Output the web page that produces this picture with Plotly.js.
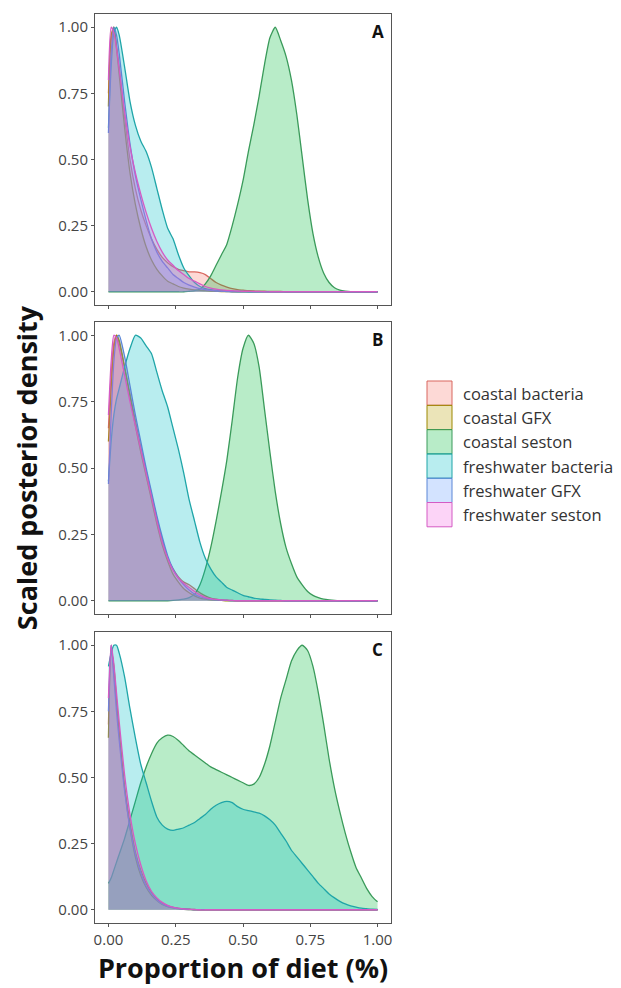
<!DOCTYPE html>
<html>
<head>
<meta charset="utf-8">
<script src="https://cdn.plot.ly/plotly-3.0.1.min.js"></script>
<style>
  html, body { margin: 0; padding: 0; background: #ffffff; }
  #chart { width: 621px; height: 988px; }
</style>
</head>
<body>
<div id="chart"></div>
<script>
// ---- data ----
const sources = ["coastal bacteria", "coastal GFX", "coastal seston",
                 "freshwater bacteria", "freshwater GFX", "freshwater seston"];
const panelLabels = ["A", "B", "C"];
const xTicks = [0, 0.25, 0.5, 0.75, 1];
const yTicks = [0, 0.25, 0.5, 0.75, 1];

// shared grid of diet proportions
const diet = [0, 0.01, 0.02, 0.03, 0.04, 0.06, 0.08, 0.10, 0.12, 0.14, 0.16, 0.18, 0.20,
  0.22, 0.24, 0.26, 0.28, 0.30, 0.32, 0.34, 0.36, 0.38, 0.40, 0.42, 0.44, 0.46, 0.48,
  0.50, 0.52, 0.54, 0.56, 0.58, 0.60, 0.62, 0.64, 0.66, 0.68, 0.70, 0.72, 0.74, 0.76,
  0.78, 0.80, 0.82, 0.84, 0.86, 0.88, 0.90, 0.92, 0.94, 0.96, 0.98, 1.00];

// Panel A
const coastalBacteriaA = [0.75,0.95,1.0,0.93,0.85,0.66,0.50,0.39,0.31,0.25,0.20,0.16,0.13,0.11,0.095,0.085,0.08,0.075,0.075,0.072,0.065,0.05,0.035,0.025,0.018,0.012,0.008,0.006,0.004,0.003,0.002,0.002,0.001,0.001,0.001,0,0,0,0,0,0,0,0,0,0,0,0,0,0,0,0,0,0];
const coastalGFXA = [0.7,0.97,1.0,0.92,0.82,0.62,0.45,0.33,0.24,0.17,0.12,0.085,0.06,0.04,0.03,0.02,0.014,0.01,0.007,0.005,0.004,0.003,0.002,0.001,0.001,0,0,0,0,0,0,0,0,0,0,0,0,0,0,0,0,0,0,0,0,0,0,0,0,0,0,0,0];
const coastalSestonA = [0,0,0,0,0,0,0,0,0,0,0,0,0,0,0,0,0,0.002,0.004,0.01,0.03,0.06,0.10,0.14,0.18,0.25,0.33,0.42,0.53,0.63,0.74,0.86,0.96,1.0,0.95,0.89,0.80,0.67,0.51,0.35,0.22,0.13,0.07,0.035,0.015,0.006,0.002,0,0,0,0,0,0];
const freshBacteriaA = [0.62,0.85,0.98,1.0,0.97,0.85,0.72,0.63,0.57,0.53,0.47,0.39,0.31,0.24,0.20,0.14,0.09,0.06,0.035,0.02,0.012,0.008,0.005,0.004,0.003,0.002,0.001,0.001,0,0,0,0,0,0,0,0,0,0,0,0,0,0,0,0,0,0,0,0,0,0,0,0,0];
const freshGFXA = [0.6,0.9,1.0,0.97,0.9,0.72,0.56,0.44,0.35,0.27,0.2,0.15,0.115,0.09,0.065,0.05,0.035,0.025,0.018,0.012,0.008,0.005,0.003,0.002,0.001,0,0,0,0,0,0,0,0,0,0,0,0,0,0,0,0,0,0,0,0,0,0,0,0,0,0,0,0];
const freshSestonA = [0.8,1.0,0.98,0.92,0.84,0.68,0.55,0.45,0.37,0.30,0.24,0.19,0.15,0.12,0.10,0.08,0.065,0.05,0.04,0.03,0.02,0.014,0.01,0.007,0.005,0.004,0.003,0.002,0.002,0.001,0.001,0,0,0,0,0,0,0,0,0,0,0,0,0,0,0,0,0,0,0,0,0,0];

// Panel B
const coastalBacteriaB = [0.65,0.85,0.97,1.0,0.97,0.88,0.78,0.68,0.58,0.49,0.40,0.31,0.23,0.16,0.12,0.09,0.07,0.06,0.045,0.03,0.018,0.01,0.006,0.003,0.002,0.001,0,0,0,0,0,0,0,0,0,0,0,0,0,0,0,0,0,0,0,0,0,0,0,0,0,0,0];
const coastalGFXB = [0.6,0.8,0.95,1.0,0.98,0.88,0.77,0.66,0.56,0.47,0.38,0.29,0.21,0.15,0.10,0.07,0.045,0.03,0.018,0.01,0.006,0.003,0.002,0.001,0,0,0,0,0,0,0,0,0,0,0,0,0,0,0,0,0,0,0,0,0,0,0,0,0,0,0,0,0];
const coastalSestonB = [0,0,0,0,0,0,0,0,0,0,0,0,0,0,0.001,0.003,0.006,0.012,0.025,0.06,0.12,0.2,0.30,0.41,0.53,0.68,0.84,0.95,1.0,0.97,0.88,0.72,0.56,0.41,0.29,0.20,0.14,0.09,0.06,0.035,0.02,0.012,0.006,0.003,0.001,0,0,0,0,0,0,0,0];
const freshBacteriaB = [0.45,0.6,0.7,0.76,0.8,0.88,0.95,1.0,0.99,0.96,0.93,0.86,0.79,0.73,0.65,0.57,0.48,0.38,0.30,0.22,0.16,0.12,0.09,0.07,0.05,0.04,0.03,0.02,0.015,0.01,0.007,0.005,0.003,0.002,0.001,0,0,0,0,0,0,0,0,0,0,0,0,0,0,0,0,0,0];
const freshGFXB = [0.44,0.7,0.9,0.99,1.0,0.92,0.81,0.70,0.60,0.50,0.41,0.32,0.24,0.17,0.12,0.085,0.06,0.04,0.025,0.015,0.009,0.005,0.003,0.002,0.001,0,0,0,0,0,0,0,0,0,0,0,0,0,0,0,0,0,0,0,0,0,0,0,0,0,0,0,0];
const freshSestonB = [0.7,0.9,1.0,0.99,0.95,0.85,0.75,0.66,0.57,0.48,0.39,0.30,0.22,0.16,0.115,0.085,0.065,0.05,0.035,0.022,0.013,0.008,0.005,0.003,0.002,0.001,0,0,0,0,0,0,0,0,0,0,0,0,0,0,0,0,0,0,0,0,0,0,0,0,0,0,0];

// Panel C
const coastalBacteriaC = [0.7,1.0,0.9,0.78,0.67,0.47,0.33,0.22,0.15,0.10,0.065,0.04,0.025,0.015,0.009,0.005,0.003,0.002,0.001,0,0,0,0,0,0,0,0,0,0,0,0,0,0,0,0,0,0,0,0,0,0,0,0,0,0,0,0,0,0,0,0,0,0];
const coastalGFXC = [0.65,0.98,0.92,0.79,0.67,0.46,0.31,0.20,0.13,0.085,0.055,0.035,0.02,0.012,0.007,0.004,0.002,0.001,0,0,0,0,0,0,0,0,0,0,0,0,0,0,0,0,0,0,0,0,0,0,0,0,0,0,0,0,0,0,0,0,0,0,0];
const coastalSestonC = [0.10,0.12,0.15,0.18,0.21,0.27,0.34,0.41,0.48,0.54,0.59,0.63,0.65,0.66,0.655,0.64,0.62,0.60,0.585,0.57,0.555,0.54,0.53,0.52,0.51,0.50,0.49,0.48,0.47,0.475,0.50,0.55,0.62,0.71,0.80,0.87,0.94,0.98,1.0,0.98,0.92,0.82,0.70,0.57,0.46,0.37,0.29,0.22,0.16,0.12,0.08,0.05,0.03];
const freshBacteriaC = [0.92,0.97,1.0,1.0,0.97,0.88,0.76,0.65,0.55,0.48,0.41,0.35,0.32,0.305,0.30,0.305,0.31,0.32,0.33,0.345,0.36,0.38,0.395,0.405,0.41,0.405,0.39,0.38,0.375,0.37,0.365,0.355,0.34,0.32,0.29,0.26,0.225,0.20,0.175,0.15,0.125,0.10,0.08,0.06,0.045,0.032,0.022,0.015,0.01,0.006,0.004,0.002,0.001];
const freshGFXC = [0.75,1.0,0.88,0.75,0.64,0.45,0.31,0.21,0.14,0.09,0.06,0.037,0.022,0.013,0.008,0.004,0.002,0.001,0,0,0,0,0,0,0,0,0,0,0,0,0,0,0,0,0,0,0,0,0,0,0,0,0,0,0,0,0,0,0,0,0,0,0];
const freshSestonC = [0.8,1.0,0.93,0.82,0.71,0.51,0.36,0.25,0.17,0.11,0.07,0.045,0.028,0.017,0.01,0.006,0.003,0.002,0.001,0,0,0,0,0,0,0,0,0,0,0,0,0,0,0,0,0,0,0,0,0,0,0,0,0,0,0,0,0,0,0,0,0,0];

const panelA = [coastalBacteriaA, coastalGFXA, coastalSestonA, freshBacteriaA, freshGFXA, freshSestonA];
const panelB = [coastalBacteriaB, coastalGFXB, coastalSestonB, freshBacteriaB, freshGFXB, freshSestonB];
const panelC = [coastalBacteriaC, coastalGFXC, coastalSestonC, freshBacteriaC, freshGFXC, freshSestonC];

// ---- styles ----
const fillColors = ["#F8766D", "#B79F00", "#00BA38", "#00BFC4", "#619CFF", "#F564E3"];
const lineColors = ["#d9675f", "#9c8800", "#3a9a5a", "#1fa5a8", "#5a86d6", "#d45bc4"];
const fillAlpha = 0.28;

function rgba(hex, a) {
  const n = parseInt(hex.slice(1), 16);
  return `rgba(${(n >> 16) & 255},${(n >> 8) & 255},${n & 255},${a})`;
}

const panels = [
  { data: panelA, xa: "x2", ya: "y" },
  { data: panelB, xa: "x3", ya: "y2" },
  { data: panelC, xa: "x",  ya: "y3" }
];

const traces = [];
panels.forEach((p) => {
  p.data.forEach((vals, i) => {
    traces.push({
      type: "scatter",
      mode: "lines",
      x: diet,
      y: vals,
      name: sources[i],
      xaxis: p.xa,
      yaxis: p.ya,
      fill: "tozeroy",
      fillcolor: rgba(fillColors[i], fillAlpha),
      line: { color: lineColors[i], width: 1.3, shape: "spline", smoothing: 0.6 },
      showlegend: false,
      hoverinfo: "skip"
    });
  });
});

const font = "'Open Sans', 'DejaVu Sans', sans-serif";
const axisCommon = {
  range: [-0.05, 1.05],
  showline: true, mirror: true, linecolor: "#555555", linewidth: 1,
  ticks: "outside", ticklen: 3, tickwidth: 1, tickcolor: "#555555",
  showgrid: false, zeroline: false, fixedrange: true,
  tickfont: { family: font, size: 15, color: "#444444" }
};

const xAxis = Object.assign({}, axisCommon, {
  tickvals: xTicks, tickformat: ".2f"
});
const yAxis = Object.assign({}, axisCommon, {
  tickvals: yTicks, tickformat: ".2f"
});

// plot area geometry in pixels
const W = 621, H = 988;
const mL = 95, mR = 230, mT = 14, mB = 65;
const plotW = W - mL - mR, plotH = H - mT - mB;
const pxX = (px) => (px - mL) / plotW;
const pxY = (py) => (H - mB - py) / plotH;

const layout = {
  width: W, height: H,
  margin: { l: mL, r: mR, t: mT, b: mB },
  paper_bgcolor: "#ffffff", plot_bgcolor: "#ffffff",
  showlegend: false,
  font: { family: font, color: "#222222" },
  xaxis: Object.assign({}, xAxis, { anchor: "y3", domain: [0, 1],
    title: { text: "Proportion of diet (%)", standoff: 8,
             font: { family: font, size: 27, color: "#111111", weight: "bold" } } }),
  xaxis2: Object.assign({}, xAxis, { anchor: "y", matches: "x", showticklabels: false }),
  xaxis3: Object.assign({}, xAxis, { anchor: "y2", matches: "x", showticklabels: false }),
  yaxis: Object.assign({}, yAxis, { anchor: "x2", domain: [pxY(305), pxY(14)] }),
  yaxis2: Object.assign({}, yAxis, { anchor: "x3", domain: [pxY(614), pxY(322)],
    title: { text: "Scaled posterior density", standoff: 12,
             font: { family: font, size: 27, color: "#111111", weight: "bold" } } }),
  yaxis3: Object.assign({}, yAxis, { anchor: "x", domain: [pxY(923), pxY(632)] }),
  annotations: [],
  shapes: []
};

// panel letters
const letterAxes = [["x2", "y"], ["x3", "y2"], ["x", "y3"]];
panelLabels.forEach((lab, i) => {
  layout.annotations.push({
    text: "<b>" + lab + "</b>",
    xref: letterAxes[i][0] + " domain", yref: letterAxes[i][1] + " domain",
    x: 0.956, y: 0.94, xanchor: "center", yanchor: "middle",
    showarrow: false, font: { family: font, size: 17, color: "#111111" }
  });
});

// legend (drawn as keys + labels)
const keyTop = 381, keyH = 24.3, keyL = 427, keyR = 452, textL = 461;
sources.forEach((name, i) => {
  const t = keyTop + i * keyH;
  layout.shapes.push({
    type: "rect", xref: "paper", yref: "paper",
    x0: pxX(keyL), x1: pxX(keyR), y0: pxY(t + keyH), y1: pxY(t),
    fillcolor: rgba(fillColors[i], fillAlpha),
    line: { color: lineColors[i], width: 1 }
  });
  layout.annotations.push({
    text: name, xref: "paper", yref: "paper",
    x: pxX(textL), y: pxY(t + keyH / 2), xanchor: "left", yanchor: "middle",
    showarrow: false, font: { family: font, size: 16.5, color: "#333333" }
  });
});

Plotly.newPlot("chart", traces, layout, { displayModeBar: false, staticPlot: true });
</script>
</body>
</html>
